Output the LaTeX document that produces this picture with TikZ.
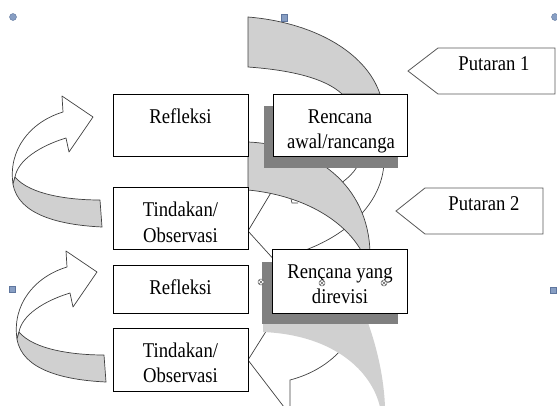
\documentclass[tikz,border=0pt]{standalone}
\usepackage{fontspec}
\newfontfamily\tnr[FakeStretch=0.89]{Liberation Serif}
\definecolor{bandgray}{RGB}{208,208,208}
\definecolor{shadowgray}{RGB}{128,128,128}
\definecolor{handlefill}{RGB}{135,158,195}
\definecolor{handleedge}{RGB}{95,118,158}
\begin{document}
\begin{tikzpicture}[x=1pt,y=-1pt,
  box/.style={draw=black, fill=white, line width=0.8pt, inner sep=0pt, anchor=north west},
  shadowbox/.style={fill=shadowgray, inner sep=0pt, anchor=north west},
  txt/.style={font=\tnr\fontsize{21}{25}\selectfont, inner sep=0pt, anchor=base},
  band/.style={fill=bandgray, draw=black!75, line width=0.7pt},
  backline/.style={draw=black!75, line width=0.7pt},
  curvearrow/.style={fill=white, draw=black!75, line width=0.7pt, line join=round},
  ribbon/.style={fill=bandgray, draw=black!75, line width=0.7pt, line join=round},
  tag/.style={fill=white, draw=black!65, line width=0.8pt},
  handle/.style={fill=handlefill, draw=handleedge, line width=0.4pt},
  xmark/.style={draw=black!60, line width=0.5pt}
]
\useasboundingbox (0,0) rectangle (557,405);
\clip (0,0) rectangle (557,405);

% ---- back (white) arc lines of the big central arrows ----
\coordinate (v1) at (248,231);
\coordinate (v2) at (248,360);
\draw[backline] (384,160) .. controls (384,200) and (350,235) .. (300,252);
\draw[backline] (360,160) .. controls (356,172) and (348,178) .. (335,188);
\draw[backline] (v1) -- (272,191);
\draw[backline] (v1) -- (277,263);
\draw[backline] (291,199) -- (292,203) -- (298,203);
\draw[backline] (v2) -- (270,325);
\draw[backline] (v2) -- (284,407);
\draw[backline] (342,349) .. controls (325,368) and (305,376) .. (290,380) -- (290,407);

% ---- grey front bands of the big central arrows ----
\draw[band] (248,17) .. controls (310,22) and (365,50) .. (380,94)
  -- (342,94) .. controls (325,78) and (290,70) .. (248,67) -- cycle;
\draw[band] (248,142) .. controls (315,145) and (368,185) .. (370,252)
  -- (362,252) .. controls (343,218) and (300,195) .. (248,190) -- cycle;
\fill[bandgray] (263,320) -- (367,320) .. controls (378,350) and (384,380) .. (385,407)
  -- (380,407) .. controls (372,372) and (335,335) .. (263,332) -- cycle;

% ---- left curved arrows ----
\foreach \dx/\dy in {0/0, 4/155}{
\begin{scope}[shift={(\dx,\dy)}]
  \draw[curvearrow] (13,184) .. controls (8,150) and (30,122) .. (63,112)
    -- (62,96) -- (93,117) -- (69,152) -- (66,138)
    .. controls (40,146) and (18,160) .. (15,177) -- cycle;
  \draw[ribbon] (15,177) .. controls (30,195) and (70,200) .. (100,200)
    -- (102,227) .. controls (60,225) and (18,215) .. (13,184) -- cycle;
\end{scope}
}

% ---- left column boxes ----
\node[box, minimum width=135pt, minimum height=62pt] (r1) at (113,94) {};
\node[box, minimum width=135pt, minimum height=62pt] (t1) at (113,187) {};
\node[box, minimum width=135pt, minimum height=48pt] (r2) at (113,265) {};
\node[box, minimum width=135pt, minimum height=63pt] (t2) at (113,328) {};
\node[txt] (r1a) at (180.5,123) {Refleksi};
\node[txt] (t1a) at (180.5,216) {Tindakan/};
\node[txt] (t1b) at (180.5,242) {Observasi};
\node[txt] (r2a) at (180.5,294) {Refleksi};
\node[txt] (t2a) at (180.5,357) {Tindakan/};
\node[txt] (t2b) at (180.5,382) {Observasi};

% ---- right column boxes with shadows ----
\node[shadowbox, minimum width=134pt, minimum height=62pt] (ras) at (264,106) {};
\node[box, minimum width=134pt, minimum height=62pt] (ra) at (273,94) {};
\begin{scope}
  \clip (273.5,94.5) rectangle (406.5,155.6);
  \node[txt] (raa) at (340,123) {Rencana};
  \node[txt] (rab) at (341,148.5) {awal/rancanga};
\end{scope}
\node[shadowbox, minimum width=136pt, minimum height=62pt] (rds) at (262,262) {};
\node[box, minimum width=135pt, minimum height=64pt] (rd) at (272,249) {};
\node[txt] (rda) at (340,278) {Rençana yang};
\node[txt] (rdb) at (340,303) {direvisi};

% ---- Putaran tags ----
\draw[tag] (408,71) -- (438,48) -- (555,48) -- (555,94) -- (438,94) -- cycle;
\node[txt] (p1) at (494,70) {Putaran 1};
\draw[tag] (396,211) -- (425,188) -- (543,188) -- (543,234) -- (425,234) -- cycle;
\node[txt] (p2) at (484,210) {Putaran 2};

% ---- selection handles ----
\filldraw[handle] (13,17) circle[radius=3.5pt];
\filldraw[handle] (555,17) circle[radius=3.5pt];
\filldraw[handle] (281,14) rectangle (287,21);
\filldraw[handle] (9,286) rectangle (15,292);
\filldraw[handle] (550,287) rectangle (556,293);
\foreach \hx/\hy in {261/282, 322/283, 384/283}{
  \draw[xmark, fill=white] (\hx,\hy) circle[radius=3pt];
  \draw[xmark] (\hx-2,\hy-2) -- (\hx+2,\hy+2) (\hx-2,\hy+2) -- (\hx+2,\hy-2);
}
\end{tikzpicture}
\end{document}
